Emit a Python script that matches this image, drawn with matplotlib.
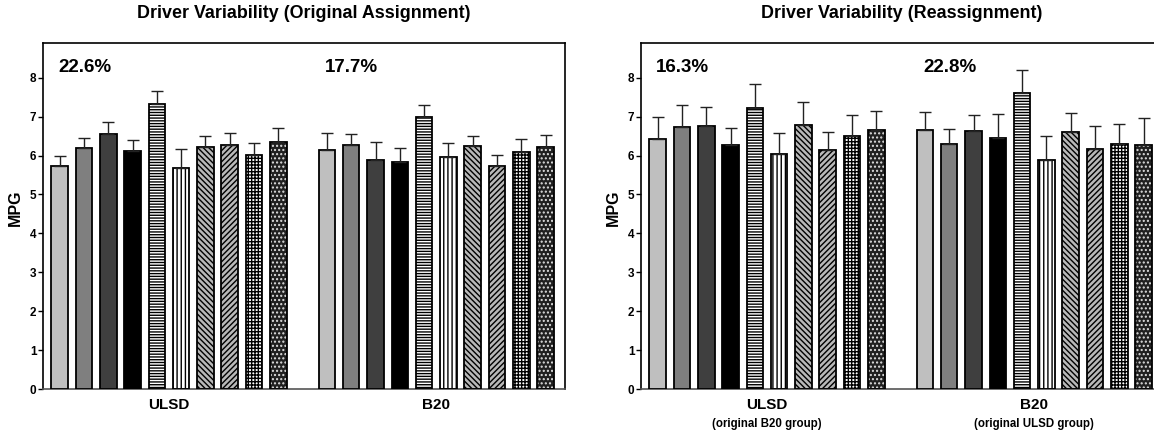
import numpy as np
import matplotlib
matplotlib.use("Agg")
import matplotlib.pyplot as plt

plt.rcParams['font.family'] = ['Liberation Sans', 'DejaVu Sans']
plt.rcParams['font.weight'] = 'bold'
plt.rcParams['hatch.linewidth'] = 1.0

# ---- data ----
groups = ["ULSD", "B20"]
orig_ulsd_mean = [5.73, 6.19, 6.56, 6.12, 7.32, 5.67, 6.23, 6.26, 6.01, 6.34]
orig_ulsd_err = [0.26, 0.27, 0.30, 0.29, 0.35, 0.51, 0.27, 0.32, 0.31, 0.38]
orig_b20_mean = [6.14, 6.26, 5.88, 5.84, 6.98, 5.97, 6.24, 5.74, 6.10, 6.21]
orig_b20_err = [0.43, 0.29, 0.48, 0.35, 0.33, 0.34, 0.25, 0.28, 0.32, 0.33]

re_ulsd_mean = [6.43, 6.74, 6.76, 6.26, 7.21, 6.05, 6.79, 6.13, 6.50, 6.66]
re_ulsd_err = [0.57, 0.57, 0.49, 0.46, 0.62, 0.54, 0.59, 0.48, 0.55, 0.48]
re_b20_mean = [6.65, 6.30, 6.62, 6.45, 7.62, 5.88, 6.60, 6.18, 6.30, 6.27]
re_b20_err = [0.48, 0.39, 0.43, 0.62, 0.58, 0.63, 0.50, 0.57, 0.50, 0.70]

orig_pct = ["22.6%", "17.7%"]
re_pct = ["16.3%", "22.8%"]
re_sublabels = ["(original B20 group)", "(original ULSD group)"]
titles = ["Driver Variability (Original Assignment)", "Driver Variability (Reassignment)"]

# bar styles: (facecolor, hatch, hatchcolor)
styles = [
    ("#bfbfbf", None, None),
    ("#7f7f7f", None, None),
    ("#3f3f3f", None, None),
    ("#000000", None, None),
    ("#ffffff", "------", "black"),
    ("#ffffff", "||||", "black"),
    ("#b8b8b8", "\\\\\\\\\\\\", "black"),
    ("#b8b8b8", "//////", "black"),
    ("#ffffff", "+++++", "black"),
    ("#202020", "....", "#e0e0e0"),
]

fig = plt.figure(figsize=(11.54, 4.33), dpi=100)
W, H = 1154, 433
ax_w = 522.3 / W
ax_h = (389 - 42.7) / H
ax_b = (H - 389) / H
ax1 = fig.add_axes([42.7 / W, ax_b, ax_w, ax_h])
ax2 = fig.add_axes([640.7 / W, ax_b, ax_w, ax_h])

bw = 0.68


def draw(ax, means_list, errs_list, pcts, title, sublabels=None):
    for g, (means, errs) in enumerate(zip(means_list, errs_list)):
        base = g * 11
        for i, (m, e) in enumerate(zip(means, errs)):
            x = base + i
            fc, hatch, hc = styles[i]
            if hatch:
                ax.bar(x, m, width=bw, color=fc, hatch=hatch, edgecolor=hc, linewidth=0, zorder=2)
                ax.bar(x, m, width=bw, fill=False, edgecolor="black", linewidth=1.3, zorder=3)
            else:
                ax.bar(x, m, width=bw, color=fc, edgecolor="black", linewidth=1.3, zorder=3)
            ax.errorbar(x, m, yerr=[[0], [e]], fmt="none", ecolor="#222222",
                        elinewidth=1.0, capsize=4, capthick=1.0, zorder=4)
        ax.text(base - 0.07, 8.25, pcts[g], fontsize=13.5, fontweight="bold",
                ha="left", va="center")
        ax.text(base + 4.5, -0.42, groups[g], fontsize=11, fontweight="bold",
                ha="center", va="center", clip_on=False)
        if sublabels:
            ax.text(base + 4.5, -0.91, sublabels[g], fontsize=8.3, fontweight="bold",
                    ha="center", va="center", clip_on=False)
    ax.set_xlim(-0.7, 20.8)
    ax.set_ylim(0, 8.9)
    ax.set_xticks([])
    ax.set_yticks(range(0, 9))
    ax.tick_params(axis="y", length=3.5, width=1, pad=1, labelsize=8.5)
    for lab in ax.get_yticklabels():
        lab.set_fontweight("bold")
    for s in ax.spines.values():
        s.set_linewidth(1.2)
        s.set_color("black")
    ax.spines["bottom"].set_color("#555555")
    ax.set_ylabel("MPG", fontsize=11.5, fontweight="bold")
    ax.yaxis.set_label_coords(-0.0377, 0.524)
    ax.set_title(title, fontsize=12.9, fontweight="bold", pad=18)


draw(ax1, [orig_ulsd_mean, orig_b20_mean], [orig_ulsd_err, orig_b20_err], orig_pct, titles[0])
draw(ax2, [re_ulsd_mean, re_b20_mean], [re_ulsd_err, re_b20_err], re_pct, titles[1], re_sublabels)

fig.savefig("out.png", dpi=100)
